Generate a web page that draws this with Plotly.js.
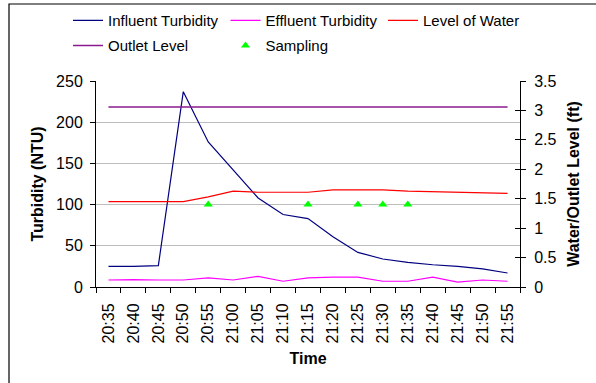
<!DOCTYPE html>
<html>
<head>
<meta charset="utf-8">
<script src="https://cdn.plot.ly/plotly-3.0.1.min.js"></script>
<style>
html,body{margin:0;padding:0;background:#fff;}
#chart{width:596px;height:383px;}
</style>
</head>
<body>
<div id="chart"></div>
<script>
var times = ['20:35','20:40','20:45','20:50','20:55','21:00','21:05','21:10','21:15','21:20','21:25','21:30','21:35','21:40','21:45','21:50','21:55'];
var influentTurbidity = [25,25,26,237,176,142,108,88,83,61,42,34,30,27,25,22,17];
var effluentTurbidity = [8.5,9,8.5,8.5,11,8.5,13,7,11,12,12,7,7,12,6,8.5,7];
var levelOfWater = [1.45,1.45,1.45,1.45,1.53,1.63,1.61,1.61,1.61,1.65,1.65,1.65,1.63,1.62,1.61,1.59,1.59];
var outletLevel = [3.06,3.06,3.06,3.06,3.06,3.06,3.06,3.06,3.06,3.06,3.06,3.06,3.06,3.06,3.06,3.06,3.06];
var samplingTimes = ['20:55','21:15','21:25','21:30','21:35'];
var samplingLevel = [1.4,1.4,1.4,1.4,1.4];

var FONT = 'Liberation Sans, Arial, sans-serif';

var traces = [
  {x: times, y: influentTurbidity, name: 'Influent Turbidity', type: 'scatter', mode: 'lines',
   line: {color: '#000080', width: 1.2}, yaxis: 'y', legend: 'legend'},
  {x: times, y: effluentTurbidity, name: 'Effluent Turbidity', type: 'scatter', mode: 'lines',
   line: {color: '#FF00FF', width: 1.2}, yaxis: 'y', legend: 'legend'},
  {x: times, y: levelOfWater, name: 'Level of Water', type: 'scatter', mode: 'lines',
   line: {color: '#FF0000', width: 1.2}, yaxis: 'y2', legend: 'legend'},
  {x: times, y: outletLevel, name: 'Outlet Level', type: 'scatter', mode: 'lines',
   line: {color: '#8a1a8f', width: 1.5}, yaxis: 'y2', legend: 'legend2'},
  {x: samplingTimes, y: samplingLevel, name: 'Sampling', type: 'scatter', mode: 'markers',
   marker: {symbol: 'triangle-up', color: '#00FF00', size: 8}, yaxis: 'y2', legend: 'legend2'},
  {x: [], y: [], yaxis: 'y3', showlegend: false, hoverinfo: 'skip', type: 'scatter', mode: 'lines'}
];

var legendBase = {
  orientation: 'h', x: -0.066, xanchor: 'left', yanchor: 'top',
  entrywidth: 112.5, entrywidthmode: 'pixels',
  font: {family: FONT, size: 15, color: '#000'},
  bgcolor: 'rgba(0,0,0,0)', borderwidth: 0, traceorder: 'normal'
};

var layout = {
  width: 596, height: 383,
  margin: {l: 96, r: 76, t: 81, b: 96, pad: 0, autoexpand: false},
  paper_bgcolor: '#ffffff', plot_bgcolor: '#ffffff',
  font: {family: FONT, size: 16, color: '#000'},
  showlegend: true,
  legend: Object.assign({}, legendBase, {y: 1.373}),
  legend2: Object.assign({}, legendBase, {y: 1.251}),
  xaxis: {
    type: 'category', categoryorder: 'array', categoryarray: times,
    range: [-0.5, 16.5], tickson: 'boundaries',
    ticks: 'outside', ticklen: 5, tickcolor: '#000', tickwidth: 1,
    showline: true, linecolor: '#000', linewidth: 1, showgrid: false, zeroline: false,
    tickangle: -90, ticklabelstandoff: 9,
    tickfont: {family: FONT, size: 16, color: '#000'},
    title: {text: '<b>Time</b>', font: {family: FONT, size: 16, color: '#000'}, standoff: 10},
    automargin: false, fixedrange: true
  },
  yaxis: {
    range: [0, 250], dtick: 50, tick0: 0,
    ticks: 'outside', ticklen: 5, tickcolor: '#000', tickwidth: 1,
    showline: true, linecolor: '#000', linewidth: 1,
    showgrid: true, gridcolor: '#bdbdbd', gridwidth: 1, zeroline: false,
    ticklabelstandoff: 4,
    tickfont: {family: FONT, size: 16, color: '#000'},
    title: {text: '<b>Turbidity (NTU)</b>', font: {family: FONT, size: 16, color: '#000'}, standoff: 8},
    automargin: false, fixedrange: true
  },
  yaxis2: {
    range: [0, 3.5], dtick: 0.5, tick0: 0, overlaying: 'y', side: 'right',
    ticks: 'outside', ticklen: 5, tickcolor: '#000', tickwidth: 1,
    showline: true, linecolor: '#000', linewidth: 1,
    showgrid: false, zeroline: false,
    ticklabelstandoff: 5,
    tickfont: {family: FONT, size: 16, color: '#000'},
    title: {text: '<b>Water/Outlet Level (ft)</b>', font: {family: FONT, size: 16, color: '#000'}, standoff: 12},
    automargin: false, fixedrange: true
  },
  yaxis3: {
    range: [0, 3.5], dtick: 0.5, tick0: 0, overlaying: 'y', side: 'right',
    ticks: 'inside', ticklen: 5, tickcolor: '#000', tickwidth: 1,
    showline: false, showgrid: false, zeroline: false, showticklabels: false,
    automargin: false, fixedrange: true
  },
  shapes: [
    {type: 'rect', xref: 'paper', yref: 'paper',
     x0: (9 - 96) / 424, x1: (600 - 96) / 424,
     y0: (287 - 390) / 206, y1: 1 + (81 - 4) / 206,
     line: {color: '#000', width: 1.2}, fillcolor: 'rgba(0,0,0,0)', layer: 'below'}
  ]
};

Plotly.newPlot('chart', traces, layout, {staticPlot: true, displayModeBar: false});
</script>
</body>
</html>
